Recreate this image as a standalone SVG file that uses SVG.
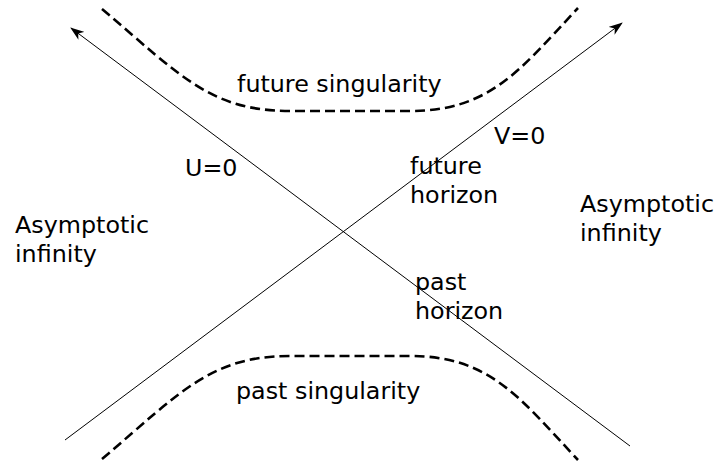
<svg xmlns="http://www.w3.org/2000/svg" width="716" height="464" viewBox="0 0 716 464">
<style>
text{font-family:"DejaVu Sans",sans-serif;font-size:23.8px;fill:#000}
.axis{stroke:#000;stroke-width:1;fill:none}
.sing{stroke:#000;stroke-width:2.6;fill:none;stroke-dasharray:10,5}
</style>
<defs>
<marker id="arr" viewBox="0 0 14 10" refX="13" refY="5" markerWidth="14" markerHeight="10" markerUnits="userSpaceOnUse" orient="auto">
<path d="M0,0 L14,5 L0,10 L4,5 Z" fill="#000"/>
</marker>
</defs>
<rect width="716" height="464" fill="#fff"/>
<g id="connectors">
<line class="axis" x1="630" y1="446" x2="71" y2="28" marker-end="url(#arr)"/>
<line class="axis" x1="65" y1="440" x2="622" y2="23" marker-end="url(#arr)"/>
</g>
<g id="future-singularity">
<path class="sing" d="M102,9 C180,75 210,111 290,111 L410,111 C490,111 520,70 578,8"/>
<text x="237" y="92">future singularity</text>
</g>
<g id="past-singularity">
<path class="sing" d="M102,459 C180,393 210,356 290,356 L410,356 C490,356 520,398 578,460"/>
<text x="236" y="399">past singularity</text>
</g>
<g id="u0"><text x="185" y="176">U=0</text></g>
<g id="v0"><text x="494" y="144">V=0</text></g>
<g id="future-horizon"><text x="410" y="174">future</text><text x="410" y="203">horizon</text></g>
<g id="past-horizon"><text x="415" y="290">past</text><text x="415" y="319">horizon</text></g>
<g id="left-infinity"><text x="15" y="233">Asymptotic</text><text x="15" y="262">infinity</text></g>
<g id="right-infinity"><text x="580" y="212">Asymptotic</text><text x="580" y="241">infinity</text></g>
</svg>
